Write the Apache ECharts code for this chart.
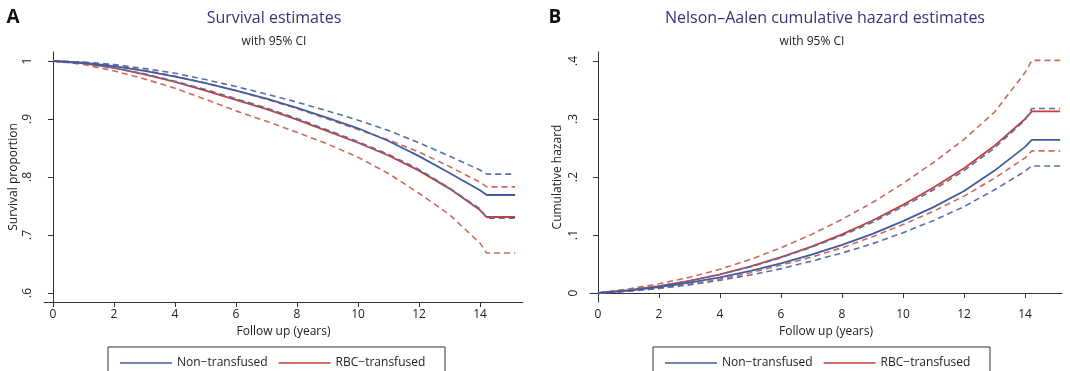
<!DOCTYPE html>
<html>
<head>
<meta charset="utf-8">
<script src="https://cdn.jsdelivr.net/npm/echarts@6/dist/echarts.min.js"></script>
<style>
  html, body { margin: 0; padding: 0; background: #fff; }
  #chart { width: 1070px; height: 371px; }
</style>
</head>
<body>
<div id="chart"></div>
<script>
const years = [0, 1, 2, 3, 4, 5, 6, 7, 8, 9, 10, 11, 12, 13, 14, 14.22, 15.15];

// panel A: survival proportion
const survNon = [1, .997, .991, .983, .973, .962, .949, .935, .919, .902, .884, .862, .836, .807, .777, .769, .769];
const survNonUp = [1, .998, .994, .987, .979, .968, .956, .943, .929, .914, .898, .880, .859, .836, .812, .805, .805];
const survNonLo = [1, .996, .988, .978, .965, .951, .935, .919, .901, .881, .861, .839, .813, .781, .745, .729, .729];
const survRbc = [1, .996, .988, .977, .964, .949, .933, .917, .899, .879, .859, .837, .811, .780, .743, .731, .731];
const survRbcUp = [1, .997, .992, .984, .974, .962, .949, .934, .918, .900, .882, .864, .843, .818, .791, .783, .783];
const survRbcLo = [1, .994, .983, .969, .953, .934, .914, .896, .877, .857, .834, .806, .772, .735, .686, .669, .669];

// panel B: Nelson-Aalen cumulative hazard
const hazNon = [0, .004, .010, .018, .027, .038, .051, .066, .083, .102, .124, .148, .176, .211, .252, .264, .264];
const hazNonUp = [0, .005, .012, .021, .032, .045, .061, .079, .099, .122, .149, .178, .211, .250, .298, .318, .318];
const hazNonLo = [0, .003, .008, .014, .022, .031, .042, .055, .069, .085, .104, .125, .149, .178, .210, .219, .219];
const hazRbc = [0, .005, .012, .021, .032, .046, .062, .080, .101, .125, .152, .182, .215, .254, .300, .313, .313];
const hazRbcUp = [0, .007, .016, .027, .041, .058, .078, .101, .127, .156, .189, .225, .265, .312, .380, .401, .401];
const hazRbcLo = [0, .003, .008, .015, .024, .035, .048, .062, .078, .097, .118, .141, .167, .198, .233, .245, .245];

const xTicks = [0, 2, 4, 6, 8, 10, 12, 14];
const survTicks = [0.6, 0.7, 0.8, 0.9, 1];
const hazTicks = [0, 0.1, 0.2, 0.3, 0.4];
const groups = ['Non−transfused', 'RBC−transfused'];

const FONT = '"Open Sans", "Noto Sans", sans-serif';
const BLUE = '#3f5c9e';
const RED = '#c23f3a';
const BLUE_D = '#5a6fa6';
const RED_D = '#cc6a60';

const pairs = (ys) => years.map((x, i) => [x, ys[i]]);
const statafmt = (v) => {
  const r = Math.round(v * 10) / 10;
  if (r === 0) return '0';
  if (r === 1) return '1';
  return String(r).replace(/^0/, '');
};

function xAxisFor(idx, min, max) {
  return {
    type: 'value', gridIndex: idx, min: min, max: max,
    name: 'Follow up (years)', nameLocation: 'middle', nameGap: 24,
    nameTextStyle: { fontFamily: FONT, fontSize: 12, color: '#222' },
    axisLine: { lineStyle: { color: '#333', width: 1 } },
    axisTick: { customValues: xTicks, length: 5, lineStyle: { color: '#333' } },
    axisLabel: { customValues: xTicks, margin: 7, fontFamily: FONT, fontSize: 12, color: '#222' },
    splitLine: { show: false }
  };
}

function yAxisFor(idx, name, gap, min, max, ticks) {
  return {
    type: 'value', gridIndex: idx, min: min, max: max,
    name: name, nameLocation: 'middle', nameGap: gap, nameRotate: 90,
    nameTextStyle: { fontFamily: FONT, fontSize: 12, color: '#222' },
    axisLine: { show: true, lineStyle: { color: '#333', width: 1 } },
    axisTick: { show: true, customValues: ticks, length: 5, lineStyle: { color: '#333' } },
    axisLabel: { customValues: ticks, rotate: 90, margin: 10, fontFamily: FONT, fontSize: 12, color: '#222', formatter: statafmt },
    splitLine: { show: false }
  };
}

function line(name, idx, ys, color, dashed, z) {
  return {
    type: 'line', name: name, xAxisIndex: idx, yAxisIndex: idx,
    data: pairs(ys), symbol: 'none', showSymbol: false, silent: true, z: z,
    lineStyle: { color: color, width: dashed ? 1.6 : 1.8, type: dashed ? [6, 4] : 'solid' },
    itemStyle: { color: color }
  };
}

const chart = echarts.init(document.getElementById('chart'));
chart.setOption({
  animation: false,
  backgroundColor: '#fff',
  grid: [
    { left: 44, top: 52, width: 479, height: 250 },
    { left: 590, top: 52, width: 472, height: 250 }
  ],
  xAxis: [xAxisFor(0, -0.295, 15.41), xAxisFor(1, -0.262, 15.21)],
  yAxis: [
    yAxisFor(0, 'Survival proportion', 24, 0.5845, 1.0155, survTicks),
    yAxisFor(1, 'Cumulative hazard', 26, -0.0155, 0.4155, hazTicks)
  ],
  legend: [
    {
      data: groups, left: 115, top: 352, itemWidth: 52, itemHeight: 14, itemGap: 11,
      icon: 'path://M0,6 L52,6 L52,7.5 L0,7.5 Z',
      textStyle: { fontFamily: FONT, fontSize: 12, color: '#222' },
      selectedMode: false
    },
    {
      data: groups, left: 660, top: 352, itemWidth: 52, itemHeight: 14, itemGap: 11,
      icon: 'path://M0,6 L52,6 L52,7.5 L0,7.5 Z',
      textStyle: { fontFamily: FONT, fontSize: 12, color: '#222' },
      selectedMode: false
    }
  ],
  graphic: [
    { type: 'rect', shape: { x: 108, y: 347, width: 337, height: 40 }, style: { fill: 'none', stroke: '#333', lineWidth: 1 } },
    { type: 'rect', shape: { x: 653, y: 347, width: 337, height: 40 }, style: { fill: 'none', stroke: '#333', lineWidth: 1 } },
    { type: 'text', x: 13, y: 18, style: { text: 'A', font: 'bold 19px ' + FONT, fill: '#111', align: 'center', verticalAlign: 'middle' } },
    { type: 'text', x: 555, y: 18, style: { text: 'B', font: 'bold 19px ' + FONT, fill: '#111', align: 'center', verticalAlign: 'middle' } },
    { type: 'text', x: 274, y: 18, style: { text: 'Survival estimates', font: '16px ' + FONT, fill: '#34347a', align: 'center', verticalAlign: 'middle' } },
    { type: 'text', x: 274, y: 42, style: { text: 'with 95% CI', font: '12px ' + FONT, fill: '#222', align: 'center', verticalAlign: 'middle' } },
    { type: 'text', x: 825, y: 18, style: { text: 'Nelson–Aalen cumulative hazard estimates', font: '16px ' + FONT, fill: '#34347a', align: 'center', verticalAlign: 'middle' } },
    { type: 'text', x: 812, y: 42, style: { text: 'with 95% CI', font: '12px ' + FONT, fill: '#222', align: 'center', verticalAlign: 'middle' } }
  ],
  series: [
    line('RBC upper A', 0, survRbcUp, RED_D, true, 2),
    line('RBC lower A', 0, survRbcLo, RED_D, true, 2),
    line(groups[1], 0, survRbc, RED, false, 3),
    line('Non upper A', 0, survNonUp, BLUE_D, true, 4),
    line('Non lower A', 0, survNonLo, BLUE_D, true, 4),
    line(groups[0], 0, survNon, BLUE, false, 5),

    line('RBC upper B', 1, hazRbcUp, RED_D, true, 2),
    line('RBC lower B', 1, hazRbcLo, RED_D, true, 2),
    line(groups[1], 1, hazRbc, RED, false, 3),
    line('Non upper B', 1, hazNonUp, BLUE_D, true, 4),
    line('Non lower B', 1, hazNonLo, BLUE_D, true, 4),
    line(groups[0], 1, hazNon, BLUE, false, 5)
  ]
});
</script>
</body>
</html>
